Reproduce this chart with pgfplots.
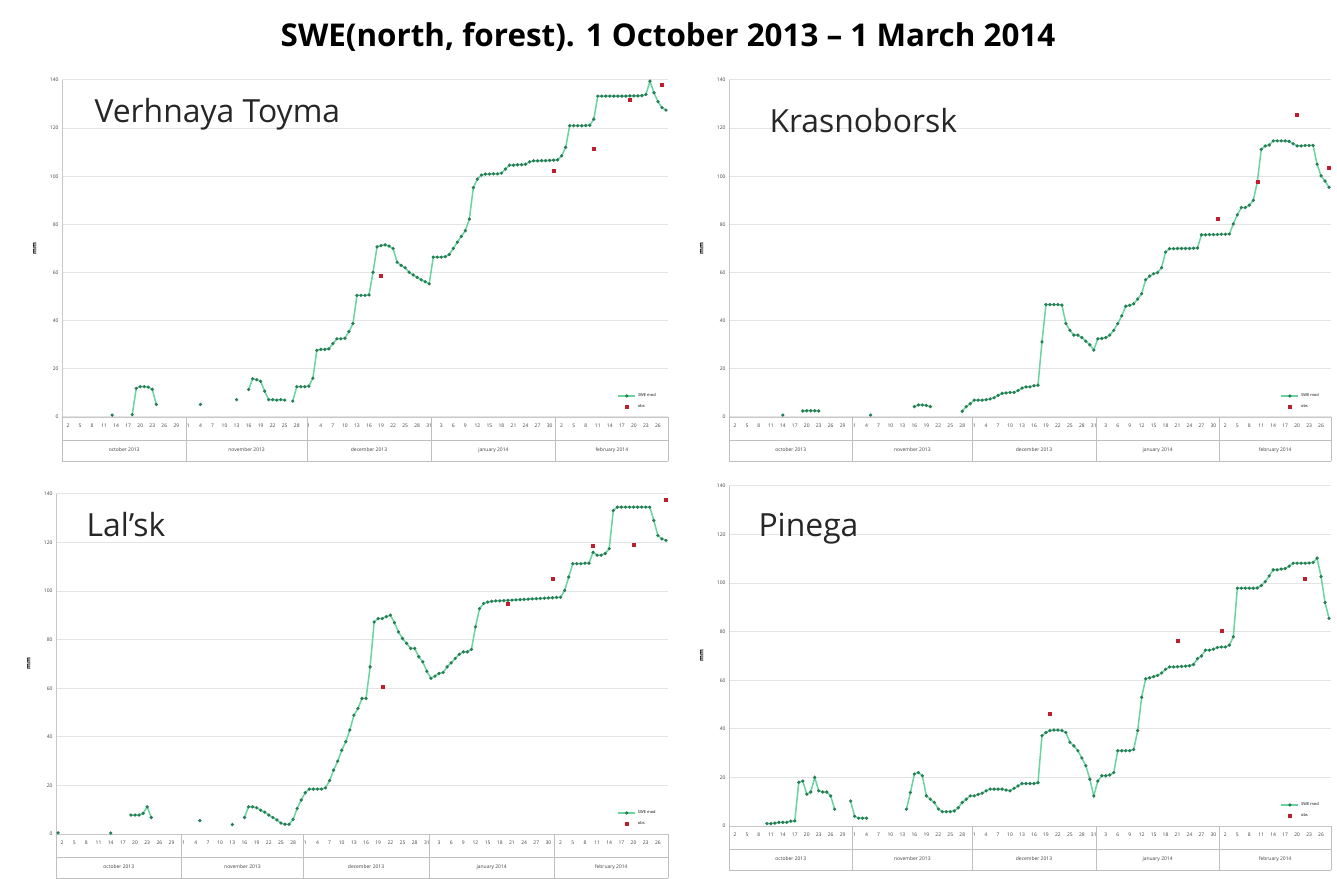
\documentclass[border=0pt]{standalone}
\usepackage{fontspec}
\setmainfont{Open Sans}
\usepackage{pgfplots}
\pgfplotsset{compat=1.18}
\definecolor{swe}{RGB}{105,212,160}
\definecolor{swemark}{RGB}{40,125,85}
\definecolor{obs}{RGB}{190,30,45}
\definecolor{gridc}{RGB}{228,228,228}
\newcommand\tinyf{\fontsize{5}{6}\selectfont}
\pgfplotsset{
 panel/.style={
  scale only axis, xmin=0.5, xmax=151.5, ymin=0, ymax=140,
  ytick={0,20,...,140}, xtick={2,5,...,149},
  xticklabels={2,5,8,11,14,17,20,23,26,29,1,4,7,10,13,16,19,22,25,28,1,4,7,10,13,16,19,22,25,28,31,3,6,9,12,15,18,21,24,27,30,2,5,8,11,14,17,20,23,26},
  ymajorgrids, grid style={gridc, line width=1bp},
  axis x line*=bottom, axis y line*=left,
  axis line style={black!22, line width=0.8bp},
  major tick style={draw=none},
  /pgf/number format/assume math mode=true,
  tick label style={font=\tinyf, text=black!75},
  xticklabel style={yshift=-3bp},
  ylabel={mm}, ylabel style={font=\fontsize{6}{7}\selectfont\bfseries, at={(axis description cs:0,0.5)}, anchor=south, yshift=22bp},
  unbounded coords=jump, clip=false,
  legend style={draw=none, fill=none, font=\fontsize{4}{5}\selectfont, at={(0.985,0.015)}, anchor=south east, row sep=2bp, inner sep=1bp},
  legend cell align=left,
 },
 sweplot/.style={color=swe, line width=1.5bp, mark=*, mark size=0.75bp, mark options={fill=swemark, draw=swemark}},
 obsplot/.style={only marks, mark=square*, mark size=1.5bp, color=obs},
}
\newcommand\monthtable{%
 \draw[black!25] (axis cs:0.5,0) -- ([yshift=-44bp]axis cs:0.5,0);
 \draw[black!25] (axis cs:31.5,0) -- ([yshift=-44bp]axis cs:31.5,0);
 \draw[black!25] (axis cs:61.5,0) -- ([yshift=-44bp]axis cs:61.5,0);
 \draw[black!25] (axis cs:92.5,0) -- ([yshift=-44bp]axis cs:92.5,0);
 \draw[black!25] (axis cs:123.5,0) -- ([yshift=-44bp]axis cs:123.5,0);
 \draw[black!25] (axis cs:151.5,0) -- ([yshift=-44bp]axis cs:151.5,0);
 \draw[black!25] ([yshift=-23bp]axis cs:0.5,0) -- ([yshift=-23bp]axis cs:151.5,0);
 \draw[black!25] ([yshift=-44bp]axis cs:0.5,0) -- ([yshift=-44bp]axis cs:151.5,0);
 \node[font=\tinyf, text=black!75] at ([yshift=-33bp]axis cs:16,0) {october 2013};
 \node[font=\tinyf, text=black!75] at ([yshift=-33bp]axis cs:46.5,0) {november 2013};
 \node[font=\tinyf, text=black!75] at ([yshift=-33bp]axis cs:77,0) {december 2013};
 \node[font=\tinyf, text=black!75] at ([yshift=-33bp]axis cs:108,0) {january 2014};
 \node[font=\tinyf, text=black!75] at ([yshift=-33bp]axis cs:137.5,0) {february 2014};
}
\begin{document}
\begin{tikzpicture}[x=1bp,y=1bp]
\useasboundingbox (0,0) rectangle (1337,878);
\node[font=\fontsize{31.5}{35}\selectfont\bfseries] at (668,841) {SWE(north, forest). 1 October 2013 – 1 March 2014};

% Top-left: Verhnaya Toyma
\begin{axis}[panel, at={(62bp,461bp)}, anchor=south west, width=606bp, height=337bp]
\addplot[sweplot] coordinates {(13,0.8)(14,nan)(18,1.0)(19,11.9)(20,12.6)(21,12.6)(22,12.4)(23,11.5)(24,5.2)(25,nan)(35,5.2)(36,nan)(44,7.2)(45,nan)(47,11.4)(48,15.9)(49,15.5)(50,14.8)(51,10.7)(52,7.2)(53,7.2)(54,7.0)(55,7.2)(56,7.0)(57,nan)(58,6.6)(59,12.6)(60,12.6)(61,12.6)(62,12.8)(63,16.1)(64,27.7)(65,28.1)(66,28.1)(67,28.3)(68,30.5)(69,32.5)(70,32.5)(71,32.7)(72,35.5)(73,38.8)(74,50.5)(75,50.5)(76,50.5)(77,50.7)(78,60.1)(79,70.7)(80,71.2)(81,71.5)(82,71.0)(83,70.0)(84,64.3)(85,63.0)(86,62.0)(87,60.1)(88,59.0)(89,58.0)(90,57.0)(91,56.2)(92,55.3)(93,66.4)(94,66.4)(95,66.4)(96,66.6)(97,67.5)(98,70.0)(99,72.6)(100,75.0)(101,77.4)(102,82.2)(103,95.3)(104,98.8)(105,100.5)(106,100.9)(107,100.9)(108,101.0)(109,101.0)(110,101.3)(111,103.0)(112,104.6)(113,104.6)(114,104.8)(115,104.8)(116,105.0)(117,106.0)(118,106.4)(119,106.4)(120,106.5)(121,106.5)(122,106.6)(123,106.7)(124,106.8)(125,108.5)(126,112.0)(127,121.0)(128,121.0)(129,121.0)(130,121.0)(131,121.1)(132,121.2)(133,123.7)(134,133.3)(135,133.3)(136,133.3)(137,133.3)(138,133.3)(139,133.3)(140,133.3)(141,133.3)(142,133.4)(143,133.4)(144,133.4)(145,133.5)(146,134.0)(147,139.5)(148,134.7)(149,131.0)(150,128.5)(151,127.5)};
\addlegendentry{SWE mod}
\addplot[obsplot] coordinates {(80,58.8)(123,102.3)(133,111.5)(142,131.7)(150,137.9)};
\addlegendentry{obs}
\monthtable
\end{axis}

% Top-right: Krasnoborsk
\begin{axis}[panel, at={(729bp,461bp)}, anchor=south west, width=602bp, height=337bp]
\addplot[sweplot] coordinates {(14,0.8)(15,nan)(19,2.5)(20,2.6)(21,2.6)(22,2.6)(23,2.5)(24,nan)(36,0.8)(37,nan)(47,4.3)(48,5.0)(49,5.0)(50,4.8)(51,4.3)(52,nan)(59,2.4)(60,4.3)(61,5.5)(62,7.0)(63,7.0)(64,7.0)(65,7.2)(66,7.5)(67,8.0)(68,9.0)(69,9.8)(70,10.0)(71,10.2)(72,10.2)(73,11.0)(74,12.0)(75,12.5)(76,12.5)(77,13.0)(78,13.2)(79,31.2)(80,46.7)(81,46.7)(82,46.7)(83,46.7)(84,46.5)(85,38.8)(86,36.0)(87,34.0)(88,34.0)(89,33.0)(90,31.5)(91,30.0)(92,27.8)(93,32.5)(94,32.6)(95,33.0)(96,34.0)(97,36.0)(98,38.8)(99,42.0)(100,46.0)(101,46.4)(102,47.0)(103,49.0)(104,51.2)(105,57.0)(106,58.5)(107,59.5)(108,60.0)(109,62.0)(110,68.5)(111,69.9)(112,69.9)(113,70.0)(114,70.0)(115,70.0)(116,70.0)(117,70.1)(118,70.2)(119,75.7)(120,75.7)(121,75.8)(122,75.8)(123,75.8)(124,75.9)(125,75.9)(126,76.0)(127,80.2)(128,84.0)(129,87.0)(130,87.0)(131,88.0)(132,90.0)(133,97.5)(134,111.2)(135,112.6)(136,113.0)(137,114.7)(138,114.7)(139,114.7)(140,114.7)(141,114.5)(142,113.5)(143,112.6)(144,112.6)(145,112.8)(146,112.8)(147,112.8)(148,105.0)(149,100.2)(150,98.0)(151,95.4)};
\addlegendentry{SWE mod}
\addplot[obsplot] coordinates {(123,82.5)(133,97.7)(143,125.7)(151,103.7)};
\addlegendentry{obs}
\monthtable
\end{axis}

% Bottom-left: Lal'sk
\begin{axis}[panel, at={(56bp,44bp)}, anchor=south west, width=612bp, height=340bp]
\addplot[sweplot] coordinates {(1,0.5)(2,nan)(14,0.4)(15,nan)(19,7.8)(20,7.8)(21,7.8)(22,8.5)(23,11.2)(24,6.8)(25,nan)(36,5.5)(37,nan)(44,3.9)(45,nan)(47,6.8)(48,11.2)(49,11.2)(50,10.8)(51,9.8)(52,9.0)(53,7.8)(54,6.8)(55,5.8)(56,4.5)(57,4.0)(58,4.0)(59,6.0)(60,10.5)(61,14.0)(62,17.0)(63,18.5)(64,18.5)(65,18.5)(66,18.5)(67,19.0)(68,22.0)(69,26.3)(70,30.0)(71,34.5)(72,38.0)(73,42.8)(74,48.9)(75,51.7)(76,55.8)(77,55.8)(78,68.8)(79,87.3)(80,88.7)(81,88.7)(82,89.5)(83,90.1)(84,87.0)(85,83.2)(86,80.5)(87,78.5)(88,76.4)(89,76.4)(90,73.0)(91,70.9)(92,67.0)(93,64.1)(94,65.0)(95,66.1)(96,66.5)(97,68.8)(98,70.5)(99,72.3)(100,74.0)(101,75.0)(102,75.0)(103,76.0)(104,85.3)(105,92.8)(106,94.9)(107,95.5)(108,95.8)(109,96.0)(110,96.0)(111,96.1)(112,96.2)(113,96.3)(114,96.4)(115,96.5)(116,96.6)(117,96.7)(118,96.8)(119,96.9)(120,97.0)(121,97.1)(122,97.2)(123,97.3)(124,97.4)(125,97.5)(126,100.3)(127,105.8)(128,111.3)(129,111.3)(130,111.3)(131,111.5)(132,111.5)(133,116.0)(134,114.8)(135,114.8)(136,115.5)(137,117.5)(138,133.2)(139,134.6)(140,134.6)(141,134.6)(142,134.6)(143,134.6)(144,134.6)(145,134.6)(146,134.6)(147,134.6)(148,129.1)(149,122.9)(150,121.5)(151,120.9)};
\addlegendentry{SWE mod}
\addplot[obsplot] coordinates {(81,60.6)(112,94.9)(123,105.2)(133,118.9)(143,119.2)(151,137.5)};
\addlegendentry{obs}
\monthtable
\end{axis}

% Bottom-right: Pinega
\begin{axis}[panel, at={(729bp,52bp)}, anchor=south west, width=602bp, height=340bp]
\addplot[sweplot] coordinates {(10,1.0)(11,1.0)(12,1.2)(13,1.5)(14,1.5)(15,1.5)(16,2.0)(17,2.1)(18,18.0)(19,18.5)(20,13.1)(21,14.0)(22,20.0)(23,14.5)(24,14.0)(25,14.0)(26,12.4)(27,6.9)(28,nan)(31,10.3)(32,4.0)(33,3.2)(34,3.2)(35,3.2)(36,nan)(45,6.9)(46,13.8)(47,21.4)(48,22.0)(49,20.7)(50,12.4)(51,11.0)(52,9.7)(53,7.0)(54,5.9)(55,5.9)(56,5.9)(57,6.2)(58,7.5)(59,9.7)(60,11.0)(61,12.4)(62,12.4)(63,13.0)(64,13.5)(65,14.5)(66,15.2)(67,15.2)(68,15.2)(69,15.2)(70,14.8)(71,14.5)(72,15.5)(73,16.5)(74,17.5)(75,17.5)(76,17.5)(77,17.5)(78,17.8)(79,37.2)(80,38.5)(81,39.3)(82,39.5)(83,39.5)(84,39.3)(85,38.5)(86,34.5)(87,33.0)(88,31.0)(89,28.0)(90,24.8)(91,19.3)(92,12.4)(93,18.5)(94,20.7)(95,20.7)(96,21.0)(97,22.0)(98,31.0)(99,31.0)(100,31.0)(101,31.0)(102,31.5)(103,39.3)(104,53.0)(105,60.6)(106,61.0)(107,61.5)(108,62.0)(109,63.0)(110,64.5)(111,65.5)(112,65.5)(113,65.6)(114,65.7)(115,65.8)(116,66.0)(117,66.5)(118,68.9)(119,70.0)(120,72.4)(121,72.4)(122,72.8)(123,73.5)(124,73.7)(125,73.7)(126,74.5)(127,77.9)(128,97.9)(129,97.9)(130,97.9)(131,97.9)(132,97.9)(133,98.0)(134,99.0)(135,100.6)(136,103.0)(137,105.5)(138,105.5)(139,105.8)(140,106.0)(141,107.0)(142,108.2)(143,108.2)(144,108.2)(145,108.2)(146,108.3)(147,108.5)(148,110.3)(149,102.7)(150,92.0)(151,85.5)};
\addlegendentry{SWE mod}
\addplot[obsplot] coordinates {(81,46.4)(113,76.5)(124,80.6)(145,101.9)};
\addlegendentry{obs}
\monthtable
\end{axis}

\node[anchor=base west, font=\fontsize{32}{36}\selectfont, text=black!85] at (91,755) {Verhnaya Toyma};
\node[anchor=base west, font=\fontsize{32}{36}\selectfont, text=black!85] at (766,745) {Krasnoborsk};
\node[anchor=base west, font=\fontsize{32}{36}\selectfont, text=black!85] at (83,341) {Lal’sk};
\node[anchor=base west, font=\fontsize{32}{36}\selectfont, text=black!85] at (755,341) {Pinega};
\end{tikzpicture}
\end{document}
